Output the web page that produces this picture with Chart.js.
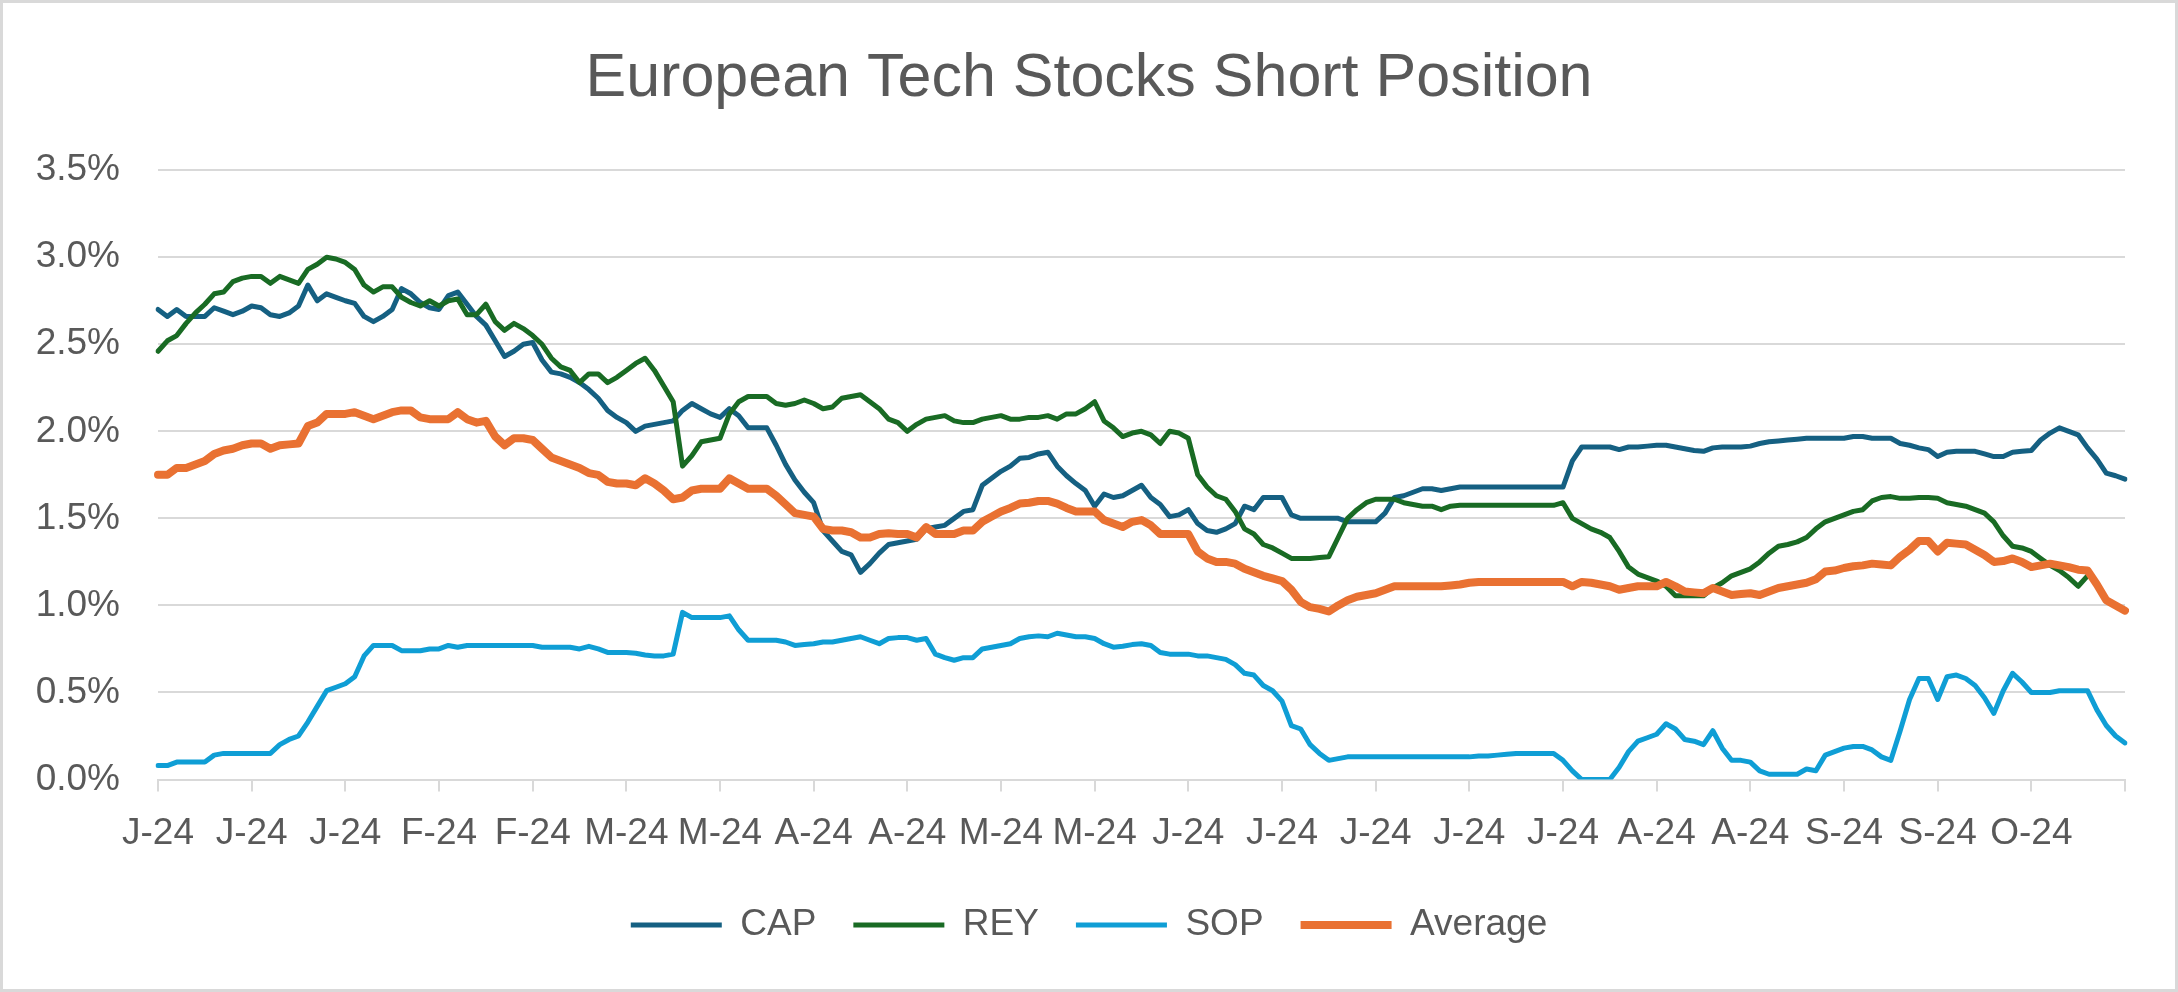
<!DOCTYPE html>
<html>
<head>
<meta charset="utf-8">
<script src="https://cdn.jsdelivr.net/npm/chart.js@4.4.1/dist/chart.umd.min.js"></script>
<style>
html,body{margin:0;padding:0;background:#ffffff;overflow:hidden;}
canvas{display:block;}
</style>
</head>
<body>
<canvas id="c" width="2178" height="992"></canvas>
<script>
// ---- tick labels (one every 10 business days) ----
const tickLabels = ['J-24','J-24','J-24','F-24','F-24','M-24','M-24','A-24','A-24','M-24','M-24',
                    'J-24','J-24','J-24','J-24','J-24','A-24','A-24','S-24','S-24','O-24'];
const tickStep = 10;

// ---- series values (% of shares) ----
const CAP = [
2.70,2.66,2.70,2.66,2.66,2.66,2.71,2.69,2.67,2.69,
2.72,2.71,2.67,2.66,2.68,2.72,2.84,2.75,2.79,2.77,
2.75,2.735,2.66,2.63,2.66,2.70,2.82,2.79,2.74,2.71,
2.70,2.78,2.80,2.73,2.66,2.61,2.52,2.43,2.46,2.50,
2.51,2.41,2.34,2.33,2.31,2.28,2.24,2.19,2.12,2.08,
2.05,2.00,2.03,2.04,2.05,2.06,2.12,2.16,2.13,2.10,
2.08,2.13,2.09,2.02,2.02,2.02,1.92,1.81,1.72,1.65,
1.59,1.43,1.37,1.31,1.29,1.19,1.24,1.30,1.35,1.36,
1.37,1.38,1.44,1.45,1.46,1.50,1.54,1.55,1.69,1.73,
1.77,1.80,1.845,1.85,1.87,1.88,1.80,1.745,1.70,1.66,
1.57,1.64,1.62,1.63,1.66,1.69,1.62,1.58,1.51,1.52,
1.55,1.47,1.43,1.42,1.44,1.47,1.57,1.55,1.62,1.62,
1.62,1.52,1.50,1.50,1.50,1.50,1.50,1.48,1.48,1.48,
1.48,1.53,1.62,1.63,1.65,1.67,1.67,1.66,1.67,1.68,
1.68,1.68,1.68,1.68,1.68,1.68,1.68,1.68,1.68,1.68,
1.68,1.83,1.91,1.91,1.91,1.91,1.895,1.91,1.91,1.915,
1.92,1.92,1.91,1.90,1.89,1.885,1.905,1.91,1.91,1.91,
1.915,1.93,1.94,1.945,1.95,1.955,1.96,1.96,1.96,1.96,
1.96,1.97,1.97,1.96,1.96,1.96,1.93,1.92,1.905,1.895,
1.855,1.88,1.885,1.885,1.885,1.87,1.855,1.855,1.88,1.885,
1.89,1.95,1.99,2.02,2.00,1.98,1.905,1.84,1.76,1.745,
1.725];

const REY = [
2.46,2.52,2.55,2.62,2.68,2.73,2.79,2.80,2.86,2.88,
2.89,2.89,2.85,2.89,2.87,2.85,2.93,2.96,3.00,2.99,
2.97,2.93,2.84,2.80,2.83,2.83,2.77,2.74,2.72,2.75,
2.72,2.75,2.76,2.67,2.67,2.73,2.63,2.58,2.62,2.59,
2.55,2.50,2.42,2.37,2.35,2.28,2.33,2.33,2.28,2.31,
2.35,2.39,2.42,2.35,2.26,2.17,1.80,1.86,1.94,1.95,
1.96,2.10,2.17,2.20,2.20,2.20,2.16,2.15,2.16,2.18,
2.16,2.13,2.14,2.19,2.20,2.21,2.17,2.13,2.07,2.05,
2.00,2.04,2.07,2.08,2.09,2.06,2.05,2.05,2.07,2.08,
2.09,2.07,2.07,2.08,2.08,2.09,2.07,2.10,2.10,2.13,
2.17,2.06,2.02,1.97,1.99,2.00,1.98,1.93,2.00,1.99,
1.96,1.75,1.68,1.63,1.61,1.54,1.44,1.41,1.35,1.33,
1.30,1.27,1.27,1.27,1.275,1.28,1.39,1.50,1.55,1.59,
1.61,1.61,1.61,1.59,1.58,1.57,1.57,1.55,1.57,1.575,
1.575,1.575,1.575,1.575,1.575,1.575,1.575,1.575,1.575,1.575,
1.59,1.50,1.47,1.44,1.42,1.39,1.31,1.22,1.18,1.16,
1.14,1.11,1.055,1.055,1.055,1.055,1.10,1.13,1.17,1.19,
1.21,1.25,1.30,1.34,1.35,1.365,1.39,1.44,1.48,1.50,
1.52,1.54,1.55,1.60,1.62,1.625,1.615,1.615,1.62,1.62,
1.615,1.59,1.58,1.57,1.55,1.53,1.48,1.40,1.34,1.33,
1.31,1.27,1.23,1.20,1.16,1.11,1.17,null,null,null,
null];

const SOP = [
0.08,0.08,0.10,0.10,0.10,0.10,0.14,0.15,0.15,0.15,
0.15,0.15,0.15,0.20,0.23,0.25,0.33,0.42,0.51,0.53,
0.55,0.59,0.71,0.77,0.77,0.77,0.74,0.74,0.74,0.75,
0.75,0.77,0.76,0.77,0.77,0.77,0.77,0.77,0.77,0.77,
0.77,0.76,0.76,0.76,0.76,0.75,0.765,0.75,0.73,0.73,
0.73,0.725,0.715,0.71,0.71,0.72,0.96,0.93,0.93,0.93,
0.93,0.94,0.86,0.80,0.80,0.80,0.80,0.79,0.77,0.775,
0.78,0.79,0.79,0.80,0.81,0.82,0.80,0.78,0.81,0.815,
0.815,0.80,0.81,0.72,0.70,0.685,0.70,0.70,0.75,0.76,
0.77,0.78,0.81,0.82,0.825,0.82,0.84,0.83,0.82,0.82,
0.81,0.78,0.76,0.765,0.775,0.78,0.77,0.73,0.72,0.72,
0.72,0.71,0.71,0.70,0.69,0.66,0.61,0.60,0.54,0.51,
0.45,0.31,0.29,0.20,0.15,0.11,0.12,0.13,0.13,0.13,
0.13,0.13,0.13,0.13,0.13,0.13,0.13,0.13,0.13,0.13,
0.13,0.135,0.135,0.14,0.145,0.15,0.15,0.15,0.15,0.15,
0.11,0.05,0.00,0.00,0.00,0.00,0.07,0.16,0.22,0.24,
0.26,0.32,0.29,0.23,0.22,0.20,0.28,0.18,0.11,0.11,
0.10,0.05,0.03,0.03,0.03,0.03,0.06,0.05,0.14,0.16,
0.18,0.19,0.19,0.17,0.13,0.11,0.28,0.46,0.58,0.58,
0.46,0.59,0.60,0.58,0.54,0.47,0.38,0.51,0.61,0.56,
0.50,0.50,0.50,0.51,0.51,0.51,0.51,0.40,0.31,0.25,
0.21];

const AVERAGE = [
1.75,1.75,1.79,1.79,1.81,1.83,1.87,1.89,1.90,1.92,
1.93,1.93,1.90,1.92,1.925,1.93,2.03,2.05,2.10,2.10,
2.10,2.11,2.09,2.07,2.09,2.11,2.12,2.12,2.08,2.07,
2.07,2.07,2.11,2.07,2.05,2.06,1.97,1.92,1.96,1.96,
1.95,1.90,1.85,1.83,1.81,1.79,1.76,1.75,1.71,1.70,
1.70,1.69,1.73,1.70,1.66,1.61,1.62,1.66,1.67,1.67,
1.67,1.73,1.70,1.67,1.67,1.67,1.63,1.58,1.53,1.52,
1.51,1.44,1.43,1.43,1.42,1.39,1.39,1.41,1.415,1.41,
1.41,1.39,1.45,1.41,1.41,1.41,1.43,1.43,1.48,1.51,
1.54,1.56,1.585,1.59,1.60,1.60,1.585,1.56,1.54,1.54,
1.54,1.49,1.47,1.45,1.48,1.49,1.46,1.41,1.41,1.41,
1.41,1.31,1.27,1.25,1.25,1.24,1.21,1.19,1.17,1.155,
1.14,1.09,1.02,0.99,0.98,0.965,1.00,1.03,1.05,1.06,
1.07,1.09,1.11,1.11,1.11,1.11,1.11,1.11,1.115,1.12,
1.13,1.135,1.135,1.135,1.135,1.135,1.135,1.135,1.135,1.135,
1.135,1.11,1.135,1.13,1.12,1.11,1.09,1.10,1.11,1.11,
1.11,1.135,1.11,1.08,1.075,1.07,1.10,1.08,1.06,1.065,
1.07,1.06,1.08,1.10,1.11,1.12,1.13,1.15,1.195,1.20,
1.215,1.225,1.23,1.24,1.235,1.23,1.28,1.32,1.37,1.37,
1.31,1.36,1.355,1.35,1.32,1.29,1.25,1.255,1.27,1.25,
1.22,1.23,1.24,1.23,1.22,1.205,1.20,1.12,1.03,1.00,
0.97];

// ---- categories: business days from 1 Jan 2024 ----
const categories = [];
(function () {
  const d = new Date(Date.UTC(2024, 0, 1));
  while (categories.length < CAP.length) {
    const wd = d.getUTCDay();
    if (wd !== 0 && wd !== 6) categories.push(d.toISOString().slice(0, 10));
    d.setUTCDate(d.getUTCDate() + 1);
  }
})();

const FONT = "'Liberation Sans', Arial, sans-serif";
const TXT = '#595959';
const GRID = '#D9D9D9';

const framePlugin = {
  id: 'frame',
  beforeDraw(chart) {
    const c = chart.ctx;
    c.save();
    c.fillStyle = '#ffffff';
    c.fillRect(0, 0, chart.width, chart.height);
    c.restore();
  },
  afterDraw(chart) {
    const c = chart.ctx;
    c.save();
    c.strokeStyle = GRID;
    c.lineWidth = 3;
    c.strokeRect(1.5, 1.5, chart.width - 3, chart.height - 3);
    c.restore();
  }
};

new Chart(document.getElementById('c').getContext('2d'), {
  type: 'line',
  data: {
    labels: categories,
    datasets: [
      { label: 'CAP', data: CAP, borderColor: '#156082', backgroundColor: '#156082', borderWidth: 5, order: 3 },
      { label: 'REY', data: REY, borderColor: '#196B24', backgroundColor: '#196B24', borderWidth: 5, order: 2 },
      { label: 'SOP', data: SOP, borderColor: '#0F9ED5', backgroundColor: '#0F9ED5', borderWidth: 5, order: 1 },
      { label: 'Average', data: AVERAGE, borderColor: '#E97132', backgroundColor: '#E97132', borderWidth: 8, order: 0 }
    ]
  },
  options: {
    responsive: false,
    animation: false,
    devicePixelRatio: 1,
    spanGaps: false,
    elements: {
      point: { radius: 0, hoverRadius: 0 },
      line: { tension: 0, borderCapStyle: 'round', borderJoinStyle: 'round', fill: false }
    },
    layout: { padding: { top: 0, left: 0, right: 0, bottom: 38.5 } },
    scales: {
      x: {
        type: 'category',
        offset: false,
        grid: {
          display: true,
          drawOnChartArea: false,
          drawTicks: true,
          tickLength: 12,
          color: (c) => (c.index % tickStep === 0 ? GRID : 'rgba(0,0,0,0)'),
          lineWidth: 2
        },
        border: { display: true, color: GRID, width: 2 },
        ticks: {
          autoSkip: false,
          maxRotation: 0,
          minRotation: 0,
          padding: 20,
          color: TXT,
          font: { family: FONT, size: 37 },
          callback: (v, i) => (i % tickStep === 0 && i / tickStep < tickLabels.length) ? tickLabels[i / tickStep] : ''
        },
        afterFit: (s) => { s.height = 90; }
      },
      y: {
        min: 0,
        max: 3.5,
        ticks: {
          stepSize: 0.5,
          padding: 38,
          color: TXT,
          font: { family: FONT, size: 37 },
          callback: (v) => Number(v).toFixed(1) + '%'
        },
        grid: { color: GRID, lineWidth: 2, drawTicks: false },
        border: { display: false },
        afterFit: (s) => { s.width = 158; }
      },
      yR: {
        position: 'right',
        display: true,
        grid: { display: false },
        ticks: { display: false },
        border: { display: false },
        afterFit: (s) => { s.width = 53; }
      }
    },
    plugins: {
      title: {
        display: true,
        text: 'European Tech Stocks Short Position',
        color: TXT,
        font: { family: FONT, size: 61, weight: 'normal' },
        padding: { top: 43, bottom: 54 }
      },
      legend: {
        position: 'bottom',
        reverse: true,
        labels: {
          usePointStyle: true,
          pointStyle: 'line',
          pointStyleWidth: 91,
          padding: 37,
          color: TXT,
          font: { family: FONT, size: 37 }
        }
      },
      tooltip: { enabled: false }
    }
  },
  plugins: [framePlugin]
});
</script>
</body>
</html>
